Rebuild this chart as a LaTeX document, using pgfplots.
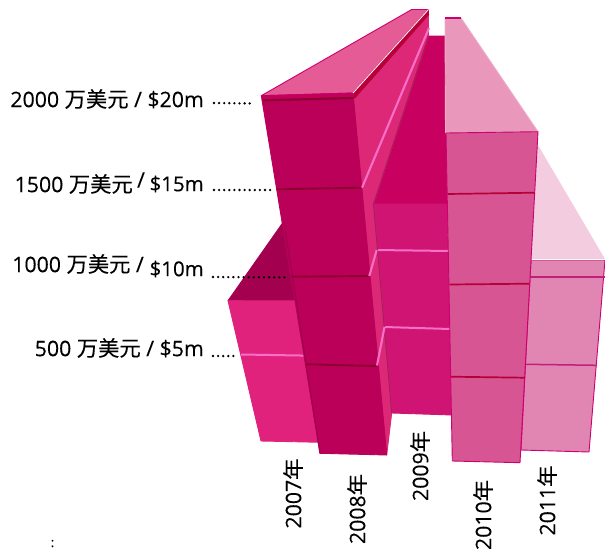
\documentclass[border=0pt]{standalone}
\usepackage{pgfplots}
\pgfplotsset{compat=1.18}
\usepackage{fontspec}
\setmainfont{Open Sans}[FakeBold=0.2]
\newfontfamily\cjk{Noto Sans CJK SC}[FakeBold=0.1]
\newcommand{\wan}{{\cjk 万美元}}
\newcommand{\nian}{{\cjk 年}}
\definecolor{aTop}{HTML}{A3004F}\definecolor{aFront}{HTML}{E0227C}
\definecolor{bTop}{HTML}{E55B96}\definecolor{bFront}{HTML}{BA0059}\definecolor{bSide}{HTML}{DD2878}\definecolor{bStrip}{HTML}{C4005F}
\definecolor{cTop}{HTML}{C80060}\definecolor{cFront}{HTML}{CF1474}
\definecolor{dTop}{HTML}{EA97BC}\definecolor{dFront}{HTML}{D65592}
\definecolor{eTop}{HTML}{F4CCE0}\definecolor{eFront}{HTML}{E186B3}
\definecolor{edge}{HTML}{CC0070}\definecolor{lite}{HTML}{F86FC8}
\definecolor{darkrule}{HTML}{8E0030}\definecolor{redrule}{HTML}{B80038}\definecolor{plumrule}{HTML}{C0207A}
\newcommand{\face}[3]{\addplot[fill=#1,draw=#2,line width=0.9pt,line join=round] coordinates {#3} -- cycle;}
\newcommand{\rulei}[3]{\addplot[draw=#1,line width=#2] coordinates {#3};}
\tikzset{lab/.style={font=\fontsize{21.3}{24}\selectfont,inner sep=0pt}}
\begin{document}
\begin{tikzpicture}
\begin{axis}[name=a,hide axis,scale only axis,width=605pt,height=549pt,
  xmin=0,xmax=605,ymin=0,ymax=549,y dir=reverse,
  cycle list={{black}},
  every axis plot/.append style={mark=none}]
% 2011
\face{eTop}{eTop}{(531,260)(605,260)(538,146)(534,146)}
\face{eFront}{edge}{(531,260)(605,260)(589,452)(521,450)}
\rulei{white}{1pt}{(531,259.5)(605,259.5)}
\rulei{plumrule}{1.5pt}{(530.7,277)(605,277)}
\rulei{plumrule}{1.5pt}{(525.7,364.3)(596.7,365.3)}
% 2007
\face{aTop}{aTop}{(228,300.7)(284,221)(330,221)(330,301)}
\face{aFront}{aFront}{(228,300.7)(330,301)(330,442.5)(261,441)}
\rulei{lite}{2pt}{(241,354.5)(312,355.7)}
% 2009
\face{cTop}{cTop}{(373.5,204)(428.5,36)(447,36)(447,204)}
\face{cFront}{cFront}{(373.5,204)(447,204)(452,415)(391.7,413)}
\rulei{lite}{2pt}{(376.7,250)(449,251)}
\rulei{lite}{2pt}{(384.5,327)(450,329)}
% 2008
\face{bTop}{edge}{(261.3,95.7)(353,93)(428.5,9.5)(411.7,9.5)}
\face{bSide}{bSide}{(353.5,98)(428.5,13)(428.5,36)(373.5,204)(391.7,413)(386.7,455)}
\addplot[draw=black!25!bSide,line width=1pt] coordinates {(428.5,36)(373.5,204)(391.7,413)};
\face{redrule}{redrule}{(353,93)(428.5,9.5)(428.5,14)(353.5,98)}
\face{bStrip}{bStrip}{(261.3,95.7)(353,93)(353.5,98)(262,100)}
\face{bFront}{bFront}{(262,100)(353.5,98)(386.7,455)(320,453.3)}
\addplot[draw=aTop,line width=1.2pt] coordinates {(284,222)(320,453.3)};
\rulei{white}{0.8pt}{(353,93)(428.5,9.5)}
\rulei{redrule}{2pt}{(354,98)(428.5,14)}
\rulei{darkrule}{2.2pt}{(263,100.3)(353.5,98)}
\rulei{darkrule}{1.9pt}{(276.7,189.3)(361.7,187.7)}
\rulei{darkrule}{1.9pt}{(291.7,276.7)(369.3,276)}
\rulei{darkrule}{1.9pt}{(306,364.3)(377,366)}
\rulei{lite}{2.1pt}{(362,187.7)(429,28)}
\rulei{lite}{2.1pt}{(369.3,276)(376.7,250)}
\rulei{lite}{2.1pt}{(377,365.5)(384.5,327)}
% 2010
\face{dTop}{dTop!80!white}{(445,18)(461,18)(538,131.7)(445.5,133)}
\rulei{edge}{1.2pt}{(445,18)(461,18)}
\face{dFront}{edge}{(446,133)(538,131.7)(520,462.7)(452.3,461)}
\rulei{redrule}{1.7pt}{(447.7,194)(534.7,192.7)}
\rulei{redrule}{1.7pt}{(449.7,284.5)(529.3,283.7)}
\rulei{redrule}{1.7pt}{(451,376.7)(524.3,377.7)}
% dotted leaders
\addplot[black,line width=2.6pt,line cap=round,dash pattern=on 0pt off 5.1pt] coordinates {(214,103)(254,103.5)};
\addplot[black,line width=2.6pt,line cap=round,dash pattern=on 0pt off 5.1pt] coordinates {(214,190)(272,190)};
\addplot[black,line width=2.6pt,line cap=round,dash pattern=on 0pt off 5.1pt] coordinates {(213,277)(285,277.5)};
\addplot[black,line width=2.6pt,line cap=round,dash pattern=on 0pt off 5.1pt] coordinates {(213,356)(238,356)};
% value labels
\node[anchor=east,lab] at (axis cs:204,99) {2000 \wan{} / \$20m};
\node[anchor=east,lab] at (axis cs:133,184) {1500 \wan{}};
\node[anchor=center,lab] at (axis cs:141,180) {/};
\node[anchor=east,lab,font=\fontsize{20.5}{24}\selectfont] at (axis cs:204,184) {\$15m};
\node[anchor=east,lab] at (axis cs:144,264) {1000 \wan{} /};
\node[anchor=east,lab,font=\fontsize{20.5}{24}\selectfont] at (axis cs:204,269) {\$10m};
\node[anchor=east,lab] at (axis cs:204,348) {500 \wan{} / \$5m};
% year labels
\node[rotate=90,lab] at (axis cs:293,493.5) {2007\nian};
\node[rotate=90,lab] at (axis cs:357,509) {2008\nian};
\node[rotate=90,lab] at (axis cs:420,466) {2009\nian};
\node[rotate=90,lab] at (axis cs:483,515) {2010\nian};
\node[rotate=90,lab] at (axis cs:547,500.5) {2011\nian};
\node[font=\fontsize{13}{14}\selectfont,inner sep=0pt] at (axis cs:52.5,543.5) {:};
\end{axis}
\pgfresetboundingbox
\useasboundingbox (a.south west) rectangle (a.north east);
\end{tikzpicture}
\end{document}
